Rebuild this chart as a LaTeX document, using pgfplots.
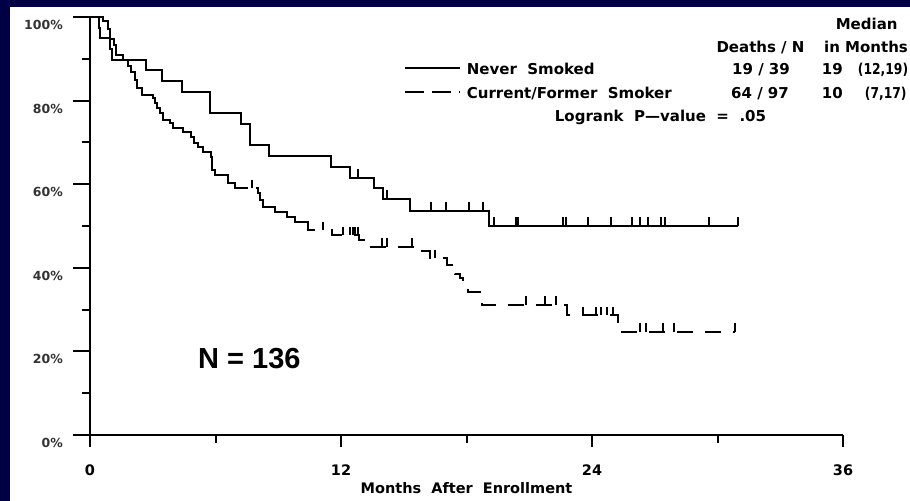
\documentclass[border=0pt]{standalone}
\usepackage{pgfplots}
\usepackage{pgfplotstable}
\pgfplotsset{compat=1.18}
\usepackage{fontspec}
\setmainfont{DejaVu Sans}
\newfontfamily\libsans{Liberation Sans}
\definecolor{navy}{RGB}{0,0,70}

\pgfdeclareplotmark{cens}{%
  \pgfsetlinewidth{2bp}%
  \pgfpathmoveto{\pgfpointorigin}%
  \pgfpathlineto{\pgfpoint{0pt}{8.5bp}}%
  \pgfusepathqstroke}

\pgfplotstableread{
t s
0 100
0.41 97.4
0.48 94.9
0.96 92.3
1.05 89.7
2.66 87.2
3.45 84.6
4.38 82.1
5.74 77.0
7.20 74.4
7.65 69.4
8.56 66.7
11.52 64.2
12.43 61.6
13.60 59.0
14.00 56.5
15.30 53.6
19.08 50.0
31.00 50.0
}\neversmoked

\pgfplotstableread{
t s
12.8 61.6
14.2 56.5
16.3 53.6
17.0 53.6
18.1 53.6
18.8 53.6
19.3 50.0
20.35 50.0
20.45 50.0
22.6 50.0
22.75 50.0
23.8 50.0
24.9 50.0
25.9 50.0
26.3 50.0
26.7 50.0
27.3 50.0
27.5 50.0
29.6 50.0
31.0 50.0
}\nevercens

\pgfplotstableread{
t s
0 100
0.64 99.0
0.85 97.1
0.96 94.8
1.16 93.2
1.24 90.8
1.56 89.6
1.80 88.3
1.96 86.9
2.15 84.9
2.23 82.9
2.47 81.3
3.03 80.5
3.11 79.4
3.22 78.3
3.35 77.0
3.50 75.4
3.82 74.6
3.98 73.4
4.43 72.6
4.81 71.4
4.97 69.8
5.18 69.0
5.39 67.8
5.77 66.6
5.85 63.4
5.98 62.2
6.58 60.2
6.93 59.0
7.57 59.0
}\smokerA

\pgfplotstableread{
t s
7.95 59.0
8.05 57.8
8.15 56.2
8.28 54.6
8.84 53.4
9.40 52.2
9.80 51.0
10.44 49.0
10.75 49.0
}\smokerB

\pgfplotstableread{
t s
11.50 49.0
11.55 47.8
12.87 46.7
13.30 45.0
15.65 43.9
16.25 42.3
17.08 40.7
17.29 39.5
17.45 38.5
17.69 37.5
17.85 35.9
18.08 34.3
18.72 31.1
22.80 28.7
25.25 24.7
30.83 24.7
}\smokerC

\pgfplotstableread{
t s
7.76 59.0
11.12 49.0
12.11 47.8
12.43 47.8
12.56 47.8
12.67 47.8
12.80 47.8
13.94 45.0
14.21 45.0
15.38 45.0
16.49 42.3
20.84 31.1
21.75 31.1
22.30 31.1
23.55 28.7
24.20 28.7
24.45 28.7
24.70 28.7
25.00 28.7
26.30 24.7
26.60 24.7
27.40 24.7
27.90 24.7
30.83 24.7
}\smokercens

\begin{document}
\begin{tikzpicture}[x=1bp,y=1bp]
\useasboundingbox (0,0) rectangle (910,501);
\fill[navy] (0,0) rectangle (910,501);
\fill[white] (10,0) rectangle (910,494);
\begin{axis}[
  at={(90bp,66bp)}, anchor=south west,
  scale only axis, width=753bp, height=418bp,
  xmin=0, xmax=36, ymin=0, ymax=100,
  enlargelimits=false, clip=false,
  axis lines*=left,
  axis line style={line width=2bp, black},
  xtick={0,12,24,36}, xticklabels={0,12,24,36},
  minor xtick={6,18,30},
  ytick={0,20,40,60,80,100},
  yticklabels={0\%,20\%,40\%,60\%,80\%,100\%},
  minor ytick={10,30,50,70,90},
  tick align=outside,
  major tick length=17bp, minor tick length=8bp,
  xtick style={/pgfplots/major tick length=12bp},
  every tick/.style={black, line width=2bp},
  yticklabel style={font=\fontsize{12.5bp}{14bp}\selectfont\bfseries, text=black!80,
    anchor=east, inner sep=0pt, xshift=-10bp, yshift=-8bp},
  xticklabel style={font=\fontsize{14.5bp}{16bp}\selectfont\bfseries,
    anchor=north, inner sep=0pt, yshift=-13bp},
  xlabel={Months\ \ After\ \ Enrollment},
  xlabel style={at={(axis description cs:0.5,0)}, anchor=north, inner sep=0pt,
    yshift=-47bp, font=\fontsize{14.5bp}{16bp}\selectfont\bfseries},
]
\addplot[const plot, line width=2bp, black] table[x=t,y=s] {\neversmoked};
\addplot[only marks, line width=2bp, black, mark=cens, mark options={solid, black}] table[x=t,y=s] {\nevercens};
\addplot[const plot, line width=2bp, black] table[x=t,y=s] {\smokerA};
\addplot[const plot, line width=2bp, black] table[x=t,y=s] {\smokerB};
\addplot[const plot, line width=2bp, black, dash pattern=on 16bp off 12bp] table[x=t,y=s] {\smokerC};
\addplot[only marks, line width=2bp, black, mark=cens, mark options={solid, black}] table[x=t,y=s] {\smokercens};
\end{axis}
% legend / annotation block
\begin{scope}[every node/.style={inner sep=0pt, font=\fontsize{15bp}{18bp}\selectfont\bfseries}]
\node[anchor=base] at (866.7,471) {Median};
\node[anchor=base] at (760.5,448) {Deaths / N};
\node[anchor=base] at (866,448) {in Months};
\draw[line width=2bp] (405,432.7) -- (460,432.7);
\node[anchor=base west] at (466.7,426) {Never\ \ Smoked};
\node[anchor=base] at (761,426) {19 / 39};
\node[anchor=base west] at (821.7,426) {19};
\node[anchor=base east] at (908.3,426) {\scalebox{0.82}[1]{(12,19)}};
\draw[line width=2bp, dash pattern=on 19bp off 8bp] (405,409.3) -- (460,409.3);
\node[anchor=base west] at (466.7,402.5) {Current/Former\ \ Smoker};
\node[anchor=base] at (760,402.5) {64 / 97};
\node[anchor=base west] at (821.7,402.5) {10};
\node[anchor=base east] at (906.7,402.5) {\scalebox{0.82}[1]{(7,17)}};
\node[anchor=base] at (660.5,379.3) {Logrank\ \ P—value\ \ =\ \ .05};
\end{scope}
\node[anchor=west, inner sep=0pt, font=\libsans\bfseries\fontsize{29bp}{32bp}\selectfont] at (198,142) {N = 136};
\end{tikzpicture}
\end{document}
